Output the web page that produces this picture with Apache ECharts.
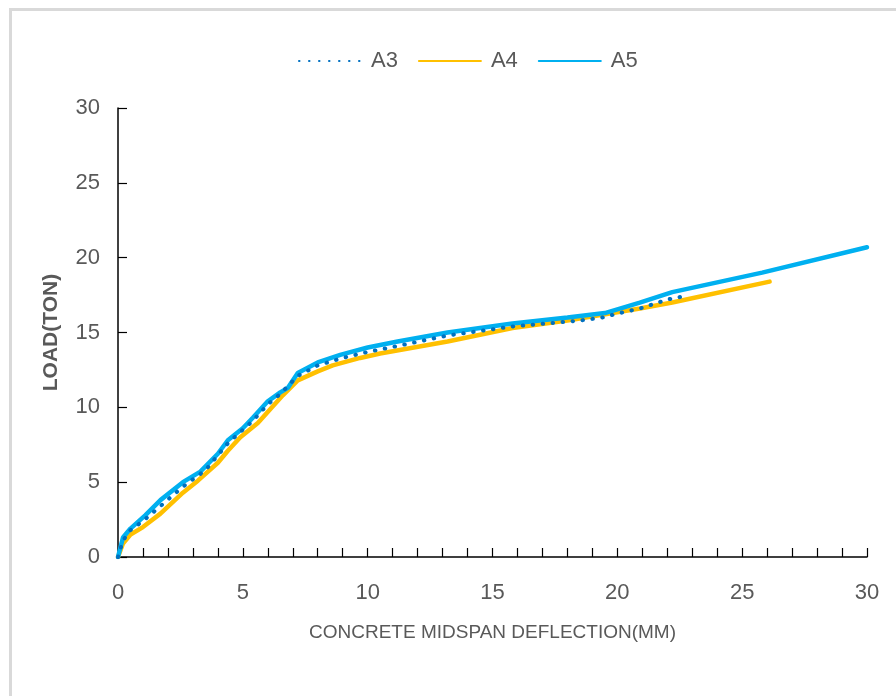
<!DOCTYPE html>
<html>
<head>
<meta charset="utf-8">
<script src="https://cdn.jsdelivr.net/npm/echarts@6/dist/echarts.min.js"></script>
<style>
  html, body { margin: 0; padding: 0; background: #fff; }
  #chart { width: 896px; height: 696px; }
</style>
</head>
<body>
<div id="chart"></div>
<script>
// deflection (mm) / load (ton)
const a3X = [0, 0.2, 0.5, 1.0, 1.7, 2.6, 3.5, 4.4, 5.4, 6.0, 6.5, 7.2, 8.0, 9.0, 10.0, 11.2, 13.2, 15.8, 18.5, 19.4, 20.1, 20.9, 22.0, 22.6];
const a3Y = [0, 1.1, 1.8, 2.4, 3.4, 4.7, 5.8, 7.6, 9.1, 10.2, 10.9, 12.1, 12.8, 13.3, 13.7, 14.1, 14.8, 15.4, 15.8, 16.0, 16.3, 16.6, 17.2, 17.4];

const a4X = [0, 0.2, 0.5, 1.0, 1.7, 2.6, 3.2, 4.0, 4.4, 4.9, 5.6, 6.6, 7.2, 8.0, 8.6, 9.7, 10.5, 13.2, 15.8, 18.0, 20.9, 22.2, 26.1];
const a4Y = [0, 0.9, 1.5, 2.0, 2.9, 4.3, 5.1, 6.3, 7.1, 8.0, 8.95, 10.8, 11.8, 12.4, 12.8, 13.3, 13.6, 14.4, 15.3, 15.8, 16.6, 17.0, 18.4];

const a5X = [0, 0.2, 0.5, 1.1, 1.7, 2.6, 3.3, 4.0, 4.4, 5.0, 5.4, 6.0, 6.5, 6.8, 7.2, 8.0, 8.9, 10.0, 11.2, 13.2, 15.8, 18.0, 19.5, 20.9, 22.2, 25.8, 30];
const a5Y = [0, 1.3, 1.9, 2.8, 3.8, 5.0, 5.7, 6.9, 7.8, 8.6, 9.3, 10.4, 11.0, 11.3, 12.3, 13.0, 13.5, 14.0, 14.4, 15.0, 15.6, 16.0, 16.3, 17.0, 17.7, 19.0, 20.7];

const seriesNames = ["A3", "A4", "A5"];

const pairs = (xs, ys) => xs.map((x, i) => [x, ys[i]]);

const textColor = "#595959";
const font = "'Liberation Sans', Arial, sans-serif";

const chart = echarts.init(document.getElementById("chart"));

chart.setOption({
  animation: false,
  backgroundColor: "#fff",
  graphic: [
    {
      type: "rect",
      shape: { x: 10.5, y: 9.5, width: 1000, height: 1000 },
      style: { fill: "none", stroke: "#d9d9d9", lineWidth: 3 },
      silent: true,
    },
  ],
  legend: {
    data: seriesNames,
    left: 298,
    top: 50,
    padding: 0,
    itemWidth: 62,
    itemHeight: 12,
    itemGap: 20,
    itemStyle: { opacity: 0 },
    textStyle: { color: textColor, fontSize: 22, fontFamily: font, padding: [0, 0, 0, 5] },
  },
  grid: { left: 118, right: 29, top: 108, bottom: 139 },
  xAxis: {
    type: "value",
    min: 0,
    max: 30,
    interval: 5,
    name: "CONCRETE MIDSPAN DEFLECTION(MM)",
    nameLocation: "middle",
    nameGap: 66,
    nameTextStyle: { color: textColor, fontSize: 19, fontFamily: font },
    axisLine: { lineStyle: { color: "#000", width: 1.5 } },
    axisTick: { show: true, inside: true, length: 9, lineStyle: { color: "#000", width: 1.2 } },
    minorTick: { show: true, splitNumber: 5, length: 9, lineStyle: { color: "#000", width: 1.2 } },
    axisLabel: { color: textColor, fontSize: 22, fontFamily: font, margin: 25 },
    splitLine: { show: false },
  },
  yAxis: {
    type: "value",
    min: 0,
    max: 30,
    interval: 5,
    name: "LOAD(TON)",
    nameLocation: "middle",
    nameGap: 56,
    nameTextStyle: { color: textColor, fontSize: 21, fontWeight: "bold", fontFamily: font },
    axisLine: { show: true, lineStyle: { color: "#000", width: 1.5 } },
    axisTick: { show: true, inside: true, length: 9, lineStyle: { color: "#000", width: 1.2 } },
    axisLabel: { color: textColor, fontSize: 22, fontFamily: font, margin: 18 },
    splitLine: { show: false },
  },
  series: [
    {
      name: "A3",
      type: "line",
      data: pairs(a3X, a3Y),
      symbol: "none",
      z: 4,
      lineStyle: { color: "#0070C0", width: 4, type: [0.5, 9.5], cap: "round" },
      itemStyle: { color: "#0070C0" },
    },
    {
      name: "A4",
      type: "line",
      data: pairs(a4X, a4Y),
      symbol: "none",
      z: 2,
      lineStyle: { color: "#FFC000", width: 4.5, cap: "round" },
      itemStyle: { color: "#FFC000" },
    },
    {
      name: "A5",
      type: "line",
      data: pairs(a5X, a5Y),
      symbol: "none",
      z: 3,
      lineStyle: { color: "#00B0F0", width: 4.5, cap: "round" },
      itemStyle: { color: "#00B0F0" },
    },
  ],
});
</script>
</body>
</html>
